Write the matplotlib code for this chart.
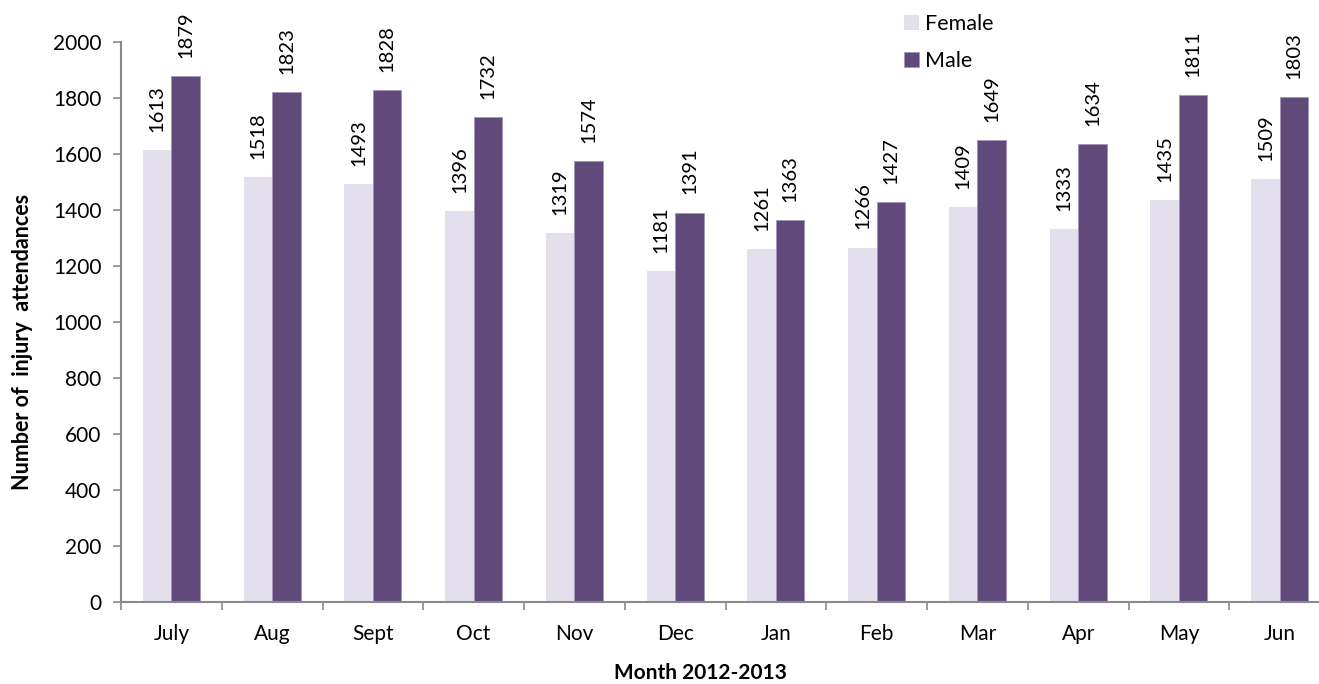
import matplotlib
matplotlib.use("Agg")
import matplotlib.pyplot as plt
import numpy as np

months = ["July", "Aug", "Sept", "Oct", "Nov", "Dec", "Jan", "Feb", "Mar", "Apr", "May", "Jun"]
female = [1613, 1518, 1493, 1396, 1319, 1181, 1261, 1266, 1409, 1333, 1435, 1509]
male = [1879, 1823, 1828, 1732, 1574, 1391, 1363, 1427, 1649, 1634, 1811, 1803]
series_names = ["Female", "Male"]
yticks = list(range(0, 2001, 200))

plt.rcParams['font.family'] = ['Lato', 'DejaVu Sans']

W, H = 1319, 684
fig = plt.figure(figsize=(W / 100, H / 100), dpi=100)
ax = fig.add_axes([121 / W, 1 - 602 / H, (1330 - 121) / W, (602 - 42) / H])

x = np.arange(len(months))
bw = 0.283
fc = "#E4DFEC"
mc = "#604A7B"
b1 = ax.bar(x - bw / 2, female, bw, color=fc, label=series_names[0], zorder=2)
b2 = ax.bar(x + bw / 2, male, bw, color=mc, edgecolor="#A294B8", linewidth=0.6, label=series_names[1], zorder=2)

for bars, vals in ((b1, female), (b2, male)):
    for r, v in zip(bars, vals):
        ax.annotate(str(v), (r.get_x() + r.get_width() / 2, v), xytext=(0, 13),
                    textcoords="offset points", rotation=90, ha="center", va="bottom",
                    fontsize=14.5, color="#000000", annotation_clip=False)

ax.set_xlim(-0.5, len(months) - 0.5)
ax.set_ylim(0, 2000)
ax.set_yticks(yticks)
ax.set_yticklabels([str(t) for t in yticks], fontsize=15)
ax.set_xticks(x)
ax.set_xticklabels(months, fontsize=15)
ax.set_xticks(np.arange(-0.5, len(months), 1), minor=True)
ax.tick_params(axis="x", which="major", length=0, pad=16)
ax.tick_params(axis="x", which="minor", length=6, color="#898989", width=1.2)
ax.tick_params(axis="y", length=6, color="#898989", width=1.2, pad=8)

for s in ("top", "right"):
    ax.spines[s].set_visible(False)
for s in ("left", "bottom"):
    ax.spines[s].set_color("#898989")
    ax.spines[s].set_linewidth(1.5)

fig.text(23 / W, 1 - 342 / H, "Number of  injury  attendances", rotation=90, ha="center", va="center",
         fontsize=15.5, fontweight="bold")
fig.text(700 / W, 1 - 673 / H, "Month 2012-2013", ha="center", va="center", fontsize=15, fontweight="bold")

leg = fig.legend(handles=[b1, b2], labels=series_names, loc="upper left",
                 bbox_to_anchor=(895 / W, 1 - 5 / H), frameon=False, fontsize=15.5,
                 handlelength=0.7, handleheight=0.7, handletextpad=0.3, labelspacing=0.8,
                 borderaxespad=0)

fig.savefig("out.png", dpi=100)
